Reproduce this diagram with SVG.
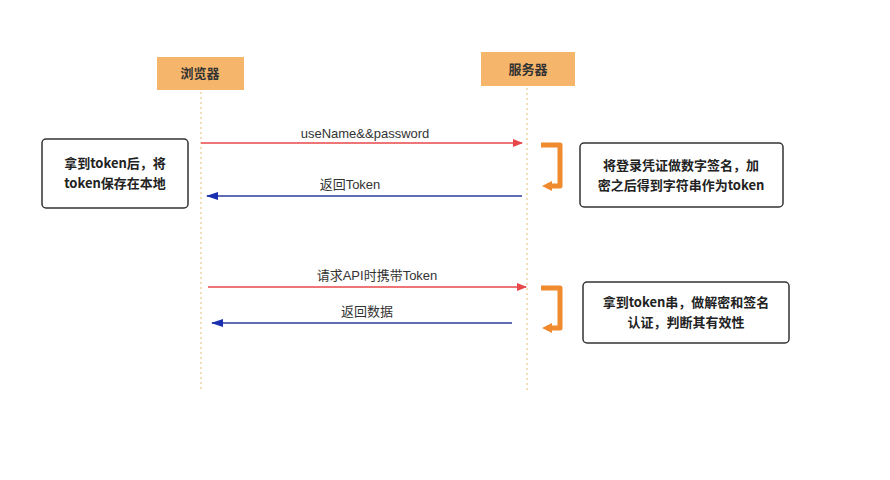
<svg xmlns="http://www.w3.org/2000/svg" width="890" height="480" viewBox="0 0 890 480">
<defs>
<style>
.hd{fill:#f5b56a}
.ht{font-family:"Noto Sans CJK SC",sans-serif;font-size:13px;font-weight:bold;fill:#333;text-anchor:middle}
.life{stroke:#e8c98a;stroke-width:1.2;stroke-dasharray:2 3;fill:none}
.box{fill:#fff;stroke:#333;stroke-width:1.5}
.bt{font-family:"Noto Sans CJK SC",sans-serif;font-size:13px;font-weight:bold;fill:#222;text-anchor:middle}
.lb{font-family:"Liberation Sans","Noto Sans CJK SC",sans-serif;font-size:13px;fill:#333;text-anchor:middle}
.red{stroke:#e8474a;stroke-width:1.5;fill:none;marker-end:url(#mr)}
.blue{stroke:#2a3d9a;stroke-width:1.5;fill:none;marker-end:url(#mb)}
.br{stroke:#ef8a2e;stroke-width:5;fill:none;stroke-linejoin:round;marker-end:url(#mo)}
</style>
<marker id="mr" markerWidth="10" markerHeight="8" refX="9" refY="4" orient="auto" markerUnits="userSpaceOnUse"><path d="M0,0L10,4L0,8z" fill="#e8474a"/></marker>
<marker id="mb" markerWidth="12" markerHeight="8" refX="11" refY="4" orient="auto" markerUnits="userSpaceOnUse"><path d="M0,0L12,4L0,8z" fill="#1a2fb0"/></marker>
<marker id="mo" markerWidth="10" markerHeight="10" refX="5" refY="5" orient="auto" markerUnits="userSpaceOnUse"><path d="M0,0L10,5L0,10z" fill="#ef8a2e"/></marker>
</defs>
<rect width="890" height="480" fill="#fff"/>
<g id="browser"><rect class="hd" x="157" y="57" width="87" height="33"/><text class="ht" x="200" y="78">浏览器</text></g>
<g id="server"><rect class="hd" x="481" y="52" width="94" height="34"/><text class="ht" x="528" y="74">服务器</text></g>
<g id="lifelines"><path class="life" d="M201,92V390"/><path class="life" d="M527,88V390"/></g>
<g id="note-browser"><rect class="box" x="42" y="139" width="146" height="69" rx="4"/><text class="bt" x="115" y="168">拿到token后，将</text><text class="bt" x="115" y="188">token保存在本地</text></g>
<g id="note-sign"><rect class="box" x="580" y="143" width="203" height="64" rx="4"/><text class="bt" x="681" y="170">将登录凭证做数字签名，加</text><text class="bt" x="681" y="190">密之后得到字符串作为token</text></g>
<g id="note-verify"><rect class="box" x="583" y="282" width="206" height="61" rx="4"/><text class="bt" x="686" y="307">拿到token串，做解密和签名</text><text class="bt" x="686" y="327">认证，判断其有效性</text></g>
<g id="connectors">
<path class="red" d="M201,143H522"/><text class="lb" x="365" y="138">useName&amp;&amp;password</text>
<path class="blue" d="M522,196H207"/><text class="lb" x="350" y="189">返回Token</text>
<path class="red" d="M208,287H526"/><text class="lb" x="377" y="280">请求API时携带Token</text>
<path class="blue" d="M512,323H212"/><text class="lb" x="367" y="316">返回数据</text>
<path class="br" d="M541,145H560V186H547"/>
<path class="br" d="M541,288H560V328H547"/>
</g>
</svg>
